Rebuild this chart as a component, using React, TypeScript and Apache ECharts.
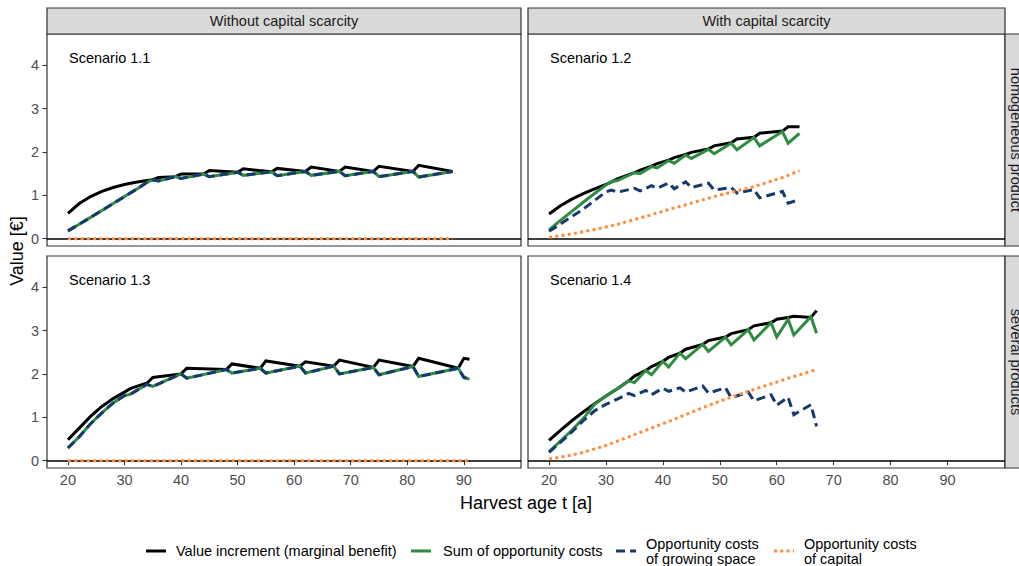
import React, { useEffect, useRef } from "react";
import * as echarts from "echarts";

// ---------- data ----------
const ages11 = [20, 22, 24, 26, 28, 30, 32, 34, 35, 36, 39, 40, 44, 45, 50, 51, 56, 57, 62, 63, 68, 69, 74, 75, 81, 82, 88];
const value11 = [0.58, 0.81, 0.97, 1.09, 1.18, 1.25, 1.3, 1.34, 1.36, 1.41, 1.43, 1.49, 1.49, 1.57, 1.53, 1.61, 1.54, 1.62, 1.55, 1.65, 1.55, 1.65, 1.55, 1.67, 1.55, 1.69, 1.55];
const sum11 = [0.18, 0.33, 0.49, 0.65, 0.81, 0.97, 1.13, 1.3, 1.36, 1.33, 1.43, 1.39, 1.49, 1.43, 1.53, 1.46, 1.54, 1.45, 1.55, 1.46, 1.55, 1.45, 1.55, 1.43, 1.55, 1.42, 1.55];
const space11 = [0.18, 0.33, 0.49, 0.65, 0.81, 0.97, 1.13, 1.3, 1.36, 1.33, 1.43, 1.39, 1.49, 1.43, 1.53, 1.46, 1.54, 1.45, 1.55, 1.46, 1.55, 1.45, 1.55, 1.43, 1.55, 1.42, 1.55];
const capital11 = [0, 0, 0, 0, 0, 0, 0, 0, 0, 0, 0, 0, 0, 0, 0, 0, 0, 0, 0, 0, 0, 0, 0, 0, 0, 0, 0];

const ages12 = [20, 22, 24, 26, 28, 30, 31, 32, 35, 36, 38, 39, 41, 42, 44, 45, 48, 49, 52, 53, 56, 57, 61, 62, 64];
const value12 = [0.57, 0.76, 0.91, 1.04, 1.15, 1.25, 1.31, 1.38, 1.52, 1.58, 1.67, 1.73, 1.81, 1.87, 1.94, 1.99, 2.07, 2.14, 2.21, 2.3, 2.34, 2.43, 2.48, 2.58, 2.58];
const sum12 = [0.2, 0.42, 0.63, 0.84, 1.04, 1.24, 1.32, 1.34, 1.52, 1.5, 1.66, 1.63, 1.8, 1.74, 1.93, 1.85, 2.06, 1.96, 2.2, 2.05, 2.33, 2.14, 2.47, 2.2, 2.43];
const space12 = [0.17, 0.34, 0.51, 0.68, 0.88, 1.08, 1.12, 1.07, 1.16, 1.1, 1.22, 1.16, 1.28, 1.15, 1.31, 1.18, 1.28, 1.12, 1.18, 1.05, 1.13, 0.94, 1.09, 0.82, 0.9];
const capital12 = [0.03, 0.07, 0.11, 0.16, 0.21, 0.27, 0.3, 0.33, 0.44, 0.48, 0.55, 0.59, 0.67, 0.71, 0.78, 0.82, 0.93, 0.97, 1.07, 1.1, 1.2, 1.24, 1.41, 1.46, 1.57];

const ages13 = [20, 22, 24, 26, 28, 30, 31, 34, 35, 40, 41, 48, 49, 54, 55, 61, 62, 67, 68, 74, 75, 81, 82, 89, 90, 91];
const value13 = [0.48, 0.75, 1.02, 1.25, 1.43, 1.58, 1.66, 1.79, 1.92, 2.0, 2.13, 2.1, 2.23, 2.13, 2.3, 2.18, 2.28, 2.18, 2.32, 2.15, 2.32, 2.17, 2.36, 2.13, 2.36, 2.34];
const sum13 = [0.29, 0.55, 0.85, 1.1, 1.33, 1.5, 1.53, 1.76, 1.71, 2.0, 1.9, 2.1, 2.02, 2.13, 2.02, 2.18, 2.02, 2.18, 2.0, 2.15, 1.98, 2.17, 1.94, 2.13, 1.92, 1.88];
const space13 = [0.29, 0.55, 0.85, 1.1, 1.33, 1.5, 1.53, 1.76, 1.71, 2.0, 1.9, 2.1, 2.02, 2.13, 2.02, 2.18, 2.02, 2.18, 2.0, 2.15, 1.98, 2.17, 1.94, 2.13, 1.92, 1.88];
const capital13 = [0, 0, 0, 0, 0, 0, 0, 0, 0, 0, 0, 0, 0, 0, 0, 0, 0, 0, 0, 0, 0, 0, 0, 0, 0, 0];

const ages14 = [20, 22, 24, 26, 28, 30, 32, 34, 35, 37, 38, 40, 41, 43, 44, 47, 48, 51, 52, 55, 56, 59, 60, 62, 63, 66, 67];
const value14 = [0.47, 0.7, 0.92, 1.12, 1.31, 1.49, 1.66, 1.84, 1.95, 2.08, 2.17, 2.29, 2.38, 2.48, 2.57, 2.68, 2.77, 2.85, 2.93, 3.02, 3.11, 3.18, 3.26, 3.3, 3.33, 3.3, 3.46];
const sum14 = [0.21, 0.45, 0.7, 0.97, 1.3, 1.49, 1.66, 1.84, 1.8, 2.08, 1.98, 2.29, 2.16, 2.48, 2.35, 2.68, 2.52, 2.85, 2.67, 3.02, 2.78, 3.18, 2.85, 3.26, 2.9, 3.32, 2.94];
const space14 = [0.19, 0.42, 0.66, 0.92, 1.15, 1.3, 1.42, 1.55, 1.5, 1.62, 1.52, 1.67, 1.6, 1.68, 1.58, 1.72, 1.56, 1.68, 1.45, 1.58, 1.38, 1.52, 1.28, 1.46, 1.06, 1.29, 0.79];
const capital14 = [0.04, 0.08, 0.13, 0.19, 0.27, 0.35, 0.45, 0.55, 0.6, 0.7, 0.75, 0.85, 0.9, 1.01, 1.06, 1.22, 1.27, 1.42, 1.46, 1.6, 1.64, 1.77, 1.81, 1.9, 1.94, 2.06, 2.11];

const xTicks = [20, 30, 40, 50, 60, 70, 80, 90];
const yTicks = [0, 1, 2, 3, 4];
const scenarioLabels = ["Scenario 1.1", "Scenario 1.2", "Scenario 1.3", "Scenario 1.4"];
const colLabels = ["Without capital scarcity", "With capital scarcity"];
const rowLabels = ["homogeneous product", "several products"];
const seriesNames = [
  "Value increment (marginal benefit)",
  "Sum of opportunity costs",
  "Opportunity costs\nof growing space",
  "Opportunity costs\nof capital",
];

// ---------- layout / style ----------
const FONT = "'Liberation Sans', Arial, Helvetica, sans-serif";
const COLORS = ["#000000", "#2E8B40", "#173A6E", "#FF8C3A"];
const DASHES: any[] = ["solid", "solid", [9, 5], [3, 3.3]];
const LW = 3;

const gridBoxes = [
  { left: 47, top: 34, width: 474, height: 212 },
  { left: 528, top: 34, width: 477, height: 212 },
  { left: 47, top: 256, width: 474, height: 212 },
  { left: 528, top: 256, width: 477, height: 212 },
];
const X_MIN = 16.3;
const X_MAX = 100.1;
const Y_MIN = -0.17;
const Y_MAX = 4.72;

const panelData = [
  { ages: ages11, vals: [value11, sum11, space11, capital11] },
  { ages: ages12, vals: [value12, sum12, space12, capital12] },
  { ages: ages13, vals: [value13, sum13, space13, capital13] },
  { ages: ages14, vals: [value14, sum14, space14, capital14] },
];

export default function App() {
  const ref = useRef<HTMLDivElement>(null);

  useEffect(() => {
    if (!ref.current) return;
    const chart = echarts.init(ref.current, null, { renderer: "svg" });

    const grids = gridBoxes.map((b) => ({
      ...b,
      show: true,
      backgroundColor: "#FFFFFF",
      borderColor: "#333333",
      borderWidth: 1.2,
      containLabel: false,
    }));

    const xAxes = gridBoxes.map((_, i) => {
      const bottom = i >= 2;
      return {
        type: "value",
        gridIndex: i,
        min: X_MIN,
        max: X_MAX,
        position: "bottom",
        axisLine: { show: false },
        splitLine: { show: false },
        axisTick: {
          show: bottom,
          customValues: xTicks,
          length: 4.5,
          lineStyle: { color: "#333333", width: 1.1 },
        },
        axisLabel: {
          show: bottom,
          customValues: xTicks,
          margin: 4,
          color: "#4D4D4D",
          fontSize: 14.5,
          fontFamily: FONT,
        },
      };
    });

    const yAxes = gridBoxes.map((_, i) => {
      const left = i % 2 === 0;
      return {
        type: "value",
        gridIndex: i,
        min: Y_MIN,
        max: Y_MAX,
        position: "left",
        axisLine: { show: false },
        splitLine: { show: false },
        axisTick: {
          show: left,
          customValues: yTicks,
          length: 4.5,
          lineStyle: { color: "#333333", width: 1.1 },
        },
        axisLabel: {
          show: left,
          customValues: yTicks,
          margin: 8,
          color: "#4D4D4D",
          fontSize: 14.5,
          fontFamily: FONT,
        },
      };
    });

    const series: any[] = [];
    panelData.forEach((p, i) => {
      p.vals.forEach((vals, k) => {
        const s: any = {
          type: "line",
          name: seriesNames[k],
          xAxisIndex: i,
          yAxisIndex: i,
          data: p.ages.map((a, j) => [a, vals[j]]),
          showSymbol: false,
          symbol: "none",
          silent: true,
          clip: true,
          lineStyle: { color: COLORS[k], width: LW, type: DASHES[k], cap: "butt", join: "miter" },
          z: 3 + k,
        };
        if (k === 0) {
          s.markLine = {
            silent: true,
            symbol: ["none", "none"],
            label: { show: false },
            lineStyle: { color: "#000000", width: 1.6, type: "solid" },
            data: [{ yAxis: 0 }],
            z: 2,
          };
        }
        series.push(s);
      });
    });

    const graphics: any[] = [];
    // top strips
    [0, 1].forEach((c) => {
      const b = gridBoxes[c];
      graphics.push({
        type: "rect",
        shape: { x: b.left, y: 8, width: b.width, height: 26 },
        style: { fill: "#D9D9D9", stroke: "#333333", lineWidth: 1.2 },
      });
      graphics.push({
        type: "text",
        x: b.left + b.width / 2,
        y: 21,
        style: {
          text: colLabels[c],
          fill: "#1A1A1A",
          font: `14.5px ${FONT}`,
          align: "center",
          verticalAlign: "middle",
        },
      });
    });
    // right strips (cut off by the page edge, as in the reference)
    [1, 3].forEach((gi, r) => {
      const b = gridBoxes[gi];
      graphics.push({
        type: "rect",
        shape: { x: b.left + b.width, y: b.top, width: 26, height: b.height },
        style: { fill: "#D9D9D9", stroke: "#333333", lineWidth: 1.2 },
      });
      graphics.push({
        type: "text",
        x: b.left + b.width + 11,
        y: b.top + b.height / 2,
        rotation: -Math.PI / 2,
        style: {
          text: rowLabels[r],
          fill: "#1A1A1A",
          font: `14.5px ${FONT}`,
          align: "center",
          verticalAlign: "middle",
        },
      });
    });
    // scenario labels
    gridBoxes.forEach((b, i) => {
      graphics.push({
        type: "text",
        x: b.left + 22,
        y: b.top + 24,
        style: {
          text: scenarioLabels[i],
          fill: "#000000",
          font: `14.5px ${FONT}`,
          align: "left",
          verticalAlign: "middle",
        },
      });
    });
    // axis titles
    graphics.push({
      type: "text",
      x: 17,
      y: 251,
      rotation: Math.PI / 2,
      style: { text: "Value [€]", fill: "#000000", font: `18px ${FONT}`, align: "center", verticalAlign: "middle" },
    });
    graphics.push({
      type: "text",
      x: 526,
      y: 503,
      style: { text: "Harvest age t [a]", fill: "#000000", font: `18px ${FONT}`, align: "center", verticalAlign: "middle" },
    });
    // legend
    const legendItems = [
      { kx: 146, tx: 176 },
      { kx: 411, tx: 443 },
      { kx: 616, tx: 646 },
      { kx: 774, tx: 804 },
    ];
    legendItems.forEach((it, k) => {
      graphics.push({
        type: "line",
        shape: { x1: it.kx, y1: 551, x2: it.kx + 20, y2: 551 },
        style: { stroke: COLORS[k], lineWidth: LW, lineDash: DASHES[k] === "solid" ? null : DASHES[k], lineCap: "butt" },
      });
      graphics.push({
        type: "text",
        x: it.tx,
        y: 551,
        style: {
          text: seriesNames[k],
          fill: "#000000",
          font: `14.5px ${FONT}`,
          lineHeight: 15,
          align: "left",
          verticalAlign: "middle",
        },
      });
    });

    chart.setOption({
      animation: false,
      backgroundColor: "#FFFFFF",
      grid: grids,
      xAxis: xAxes,
      yAxis: yAxes,
      series,
      graphic: graphics,
    });

    return () => chart.dispose();
  }, []);

  return (
    <div
      ref={ref}
      style={{ position: "fixed", left: 0, top: 0, width: 1019, height: 566, background: "#FFFFFF" }}
    />
  );
}
